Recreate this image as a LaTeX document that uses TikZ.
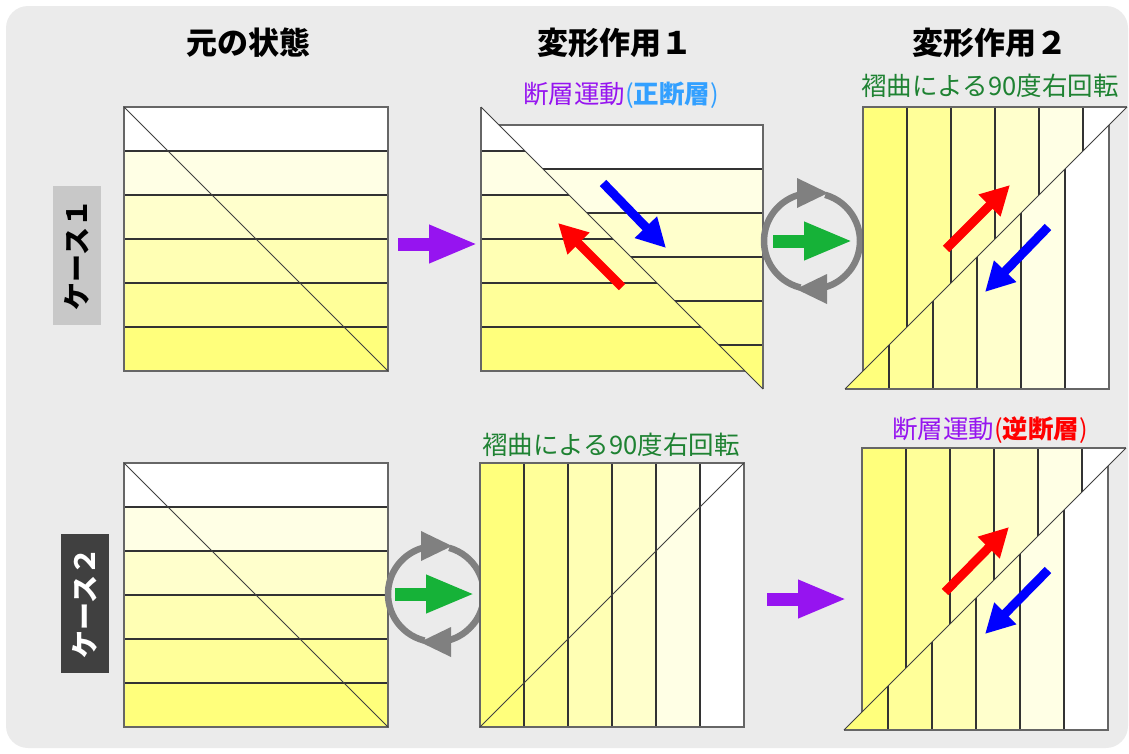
\documentclass[tikz,border=0pt]{standalone}
\usepackage{fontspec}
\setmainfont{Noto Sans CJK JP}
\usetikzlibrary{arrows.meta}

\definecolor{bgpanel}{RGB}{235,235,235}
\definecolor{bed0}{RGB}{255,255,255}
\definecolor{bed1}{RGB}{255,255,229}
\definecolor{bed2}{RGB}{255,255,204}
\definecolor{bed3}{RGB}{255,255,180}
\definecolor{bed4}{RGB}{255,255,153}
\definecolor{bed5}{RGB}{255,255,124}
\definecolor{faultpurple}{RGB}{150,20,240}
\definecolor{normalblue}{RGB}{51,160,255}
\definecolor{foldgreen}{RGB}{30,130,50}
\definecolor{rotgreen}{RGB}{22,178,56}
\definecolor{ringgray}{RGB}{128,128,128}
\definecolor{caseonegray}{RGB}{200,200,200}
\definecolor{casetwogray}{RGB}{64,64,64}

\begin{document}
\begin{tikzpicture}[x=1pt, y=-1pt,
    bedline/.style={draw=black!80, line width=1.1pt},
    frame/.style={draw=black!60, line width=1.1pt},
    fault/.style={draw=black!75, line width=0.8pt},
    fatarrow/.style={line width=13pt, -{Triangle[length=49pt,width=35pt]}},
    slip/.style={line width=9pt, -{Triangle[length=29pt,width=29pt]}},
    ring/.style={draw=ringgray, line width=6.5pt},
    title/.style={font=\bfseries\fontsize{31}{31}\selectfont},
    note/.style={font=\fontsize{25.5}{25.5}\selectfont},
    casebox/.style={rotate=90, minimum width=139pt, minimum height=48pt, inner sep=0pt,
        font=\bfseries\fontsize{28}{28}\selectfont}]
    \useasboundingbox (0,0) rectangle (1129,753);
    \fill[bgpanel, rounded corners=22pt] (6,6) rectangle (1128,748);

    % column headings
    \node[title] (head0) at (248,43) {元の状態};
    \node[title] (head1) at (615,43) {変形作用１};
    \node[title] (head2) at (990,43) {変形作用２};

    % case labels
    \node[casebox, fill=caseonegray] (case1) at (77,255) {ケース１};
    \node[casebox, fill=casetwogray, text=white] (case2) at (85,603) {ケース２};

    % ---- case 1, original beds
    \draw[bedline, fill=bed0] (124,107) rectangle (388,151);
    \draw[bedline, fill=bed1] (124,151) rectangle (388,195);
    \draw[bedline, fill=bed2] (124,195) rectangle (388,239);
    \draw[bedline, fill=bed3] (124,239) rectangle (388,283);
    \draw[bedline, fill=bed4] (124,283) rectangle (388,327);
    \draw[bedline, fill=bed5] (124,327) rectangle (388,371);
    \draw[frame] (124,107) rectangle (388,371);
    \draw[fault] (124,107) -- (388,371);

    \draw[fatarrow, faultpurple] (398,244) -- (478,244);

    % ---- case 1, normal fault
    \node[note] (note1) at (621,95) {\textcolor{faultpurple}{断層運動}\textcolor{normalblue}{(\textbf{正断層})}};
    \begin{scope}
        \clip (481,107) -- (481,371) -- (745,371) -- cycle;
        \draw[bedline, fill=bed0] (481,107) rectangle (745,151);
        \draw[bedline, fill=bed1] (481,151) rectangle (745,195);
        \draw[bedline, fill=bed2] (481,195) rectangle (745,239);
        \draw[bedline, fill=bed3] (481,239) rectangle (745,283);
        \draw[bedline, fill=bed4] (481,283) rectangle (745,327);
        \draw[bedline, fill=bed5] (481,327) rectangle (745,371);
    \end{scope}
    \begin{scope}
        \clip (499,125) -- (763,125) -- (763,389) -- cycle;
        \draw[bedline, fill=bed0] (499,125) rectangle (763,169);
        \draw[bedline, fill=bed1] (499,169) rectangle (763,213);
        \draw[bedline, fill=bed2] (499,213) rectangle (763,257);
        \draw[bedline, fill=bed3] (499,257) rectangle (763,301);
        \draw[bedline, fill=bed4] (499,301) rectangle (763,345);
        \draw[bedline, fill=bed5] (499,345) rectangle (763,389);
    \end{scope}
    \draw[frame] (481,107) -- (481,371) -- (745,371);
    \draw[frame] (499,125) -- (763,125) -- (763,389);
    \draw[fault] (481,107) -- (763,389);
    \draw[slip, blue] (603,183) -- (666,248);
    \draw[slip, red] (622,287) -- (558,223);

    % rotation mark
    \begin{scope}[shift={(812,241)}, y=1pt]
        \draw[ring] (256:48) arc[start angle=256, end angle=107, radius=48];
        \draw[ring] (74:48) arc[start angle=74, end angle=-73, radius=48];
        \fill[ringgray] (-15,63) -- (-15,33) -- (16,48) -- cycle;
        \fill[ringgray] (15,-63) -- (15,-33) -- (-16,-48) -- cycle;
        \draw[fatarrow, rotgreen] (-39,0) -- (41,0);
    \end{scope}

    % ---- case 1, folded and turned
    \node[note, text=foldgreen] (note2) at (990,86) {褶曲による90度右回転};
    \begin{scope}
        \clip (863,107) -- (1127,107) -- (863,371) -- cycle;
        \draw[bedline, fill=bed5] (863,107) rectangle (907,371);
        \draw[bedline, fill=bed4] (907,107) rectangle (951,371);
        \draw[bedline, fill=bed3] (951,107) rectangle (995,371);
        \draw[bedline, fill=bed2] (995,107) rectangle (1039,371);
        \draw[bedline, fill=bed1] (1039,107) rectangle (1083,371);
        \draw[bedline, fill=bed0] (1083,107) rectangle (1127,371);
    \end{scope}
    \begin{scope}
        \clip (845,389) -- (1109,389) -- (1109,125) -- cycle;
        \draw[bedline, fill=bed5] (845,125) rectangle (889,389);
        \draw[bedline, fill=bed4] (889,125) rectangle (933,389);
        \draw[bedline, fill=bed3] (933,125) rectangle (977,389);
        \draw[bedline, fill=bed2] (977,125) rectangle (1021,389);
        \draw[bedline, fill=bed1] (1021,125) rectangle (1065,389);
        \draw[bedline, fill=bed0] (1065,125) rectangle (1109,389);
    \end{scope}
    \draw[frame] (1127,107) -- (863,107) -- (863,371);
    \draw[frame] (845,389) -- (1109,389) -- (1109,125);
    \draw[fault] (845,389) -- (1127,107);
    \draw[slip, red] (946,249) -- (1010,185);
    \draw[slip, blue] (1048,227) -- (985,292);

    % ---- case 2, original beds
    \draw[bedline, fill=bed0] (124,463) rectangle (388,507);
    \draw[bedline, fill=bed1] (124,507) rectangle (388,551);
    \draw[bedline, fill=bed2] (124,551) rectangle (388,595);
    \draw[bedline, fill=bed3] (124,595) rectangle (388,639);
    \draw[bedline, fill=bed4] (124,639) rectangle (388,683);
    \draw[bedline, fill=bed5] (124,683) rectangle (388,727);
    \draw[frame] (124,463) rectangle (388,727);
    \draw[fault] (124,463) -- (388,727);

    % rotation mark
    \begin{scope}[shift={(436,594)}, y=1pt]
        \draw[ring] (256:48) arc[start angle=256, end angle=107, radius=48];
        \draw[ring] (74:48) arc[start angle=74, end angle=-73, radius=48];
        \fill[ringgray] (-15,63) -- (-15,33) -- (16,48) -- cycle;
        \fill[ringgray] (15,-63) -- (15,-33) -- (-16,-48) -- cycle;
        \draw[fatarrow, rotgreen] (-41,0) -- (39,0);
    \end{scope}

    % ---- case 2, folded and turned
    \node[note, text=foldgreen] (note3) at (611,445) {褶曲による90度右回転};
    \draw[bedline, fill=bed5] (480,463) rectangle (524,727);
    \draw[bedline, fill=bed4] (524,463) rectangle (568,727);
    \draw[bedline, fill=bed3] (568,463) rectangle (612,727);
    \draw[bedline, fill=bed2] (612,463) rectangle (656,727);
    \draw[bedline, fill=bed1] (656,463) rectangle (700,727);
    \draw[bedline, fill=bed0] (700,463) rectangle (744,727);
    \draw[frame] (480,463) rectangle (744,727);
    \draw[fault] (480,727) -- (744,463);

    \draw[fatarrow, faultpurple] (767,599) -- (847,599);

    % ---- case 2, reverse fault
    \node[note] (note4) at (990,430) {\textcolor{faultpurple}{断層運動}\textcolor{red}{(\textbf{逆断層})}};
    \begin{scope}
        \clip (862,448) -- (1126,448) -- (862,712) -- cycle;
        \draw[bedline, fill=bed5] (862,448) rectangle (906,712);
        \draw[bedline, fill=bed4] (906,448) rectangle (950,712);
        \draw[bedline, fill=bed3] (950,448) rectangle (994,712);
        \draw[bedline, fill=bed2] (994,448) rectangle (1038,712);
        \draw[bedline, fill=bed1] (1038,448) rectangle (1082,712);
        \draw[bedline, fill=bed0] (1082,448) rectangle (1126,712);
    \end{scope}
    \begin{scope}
        \clip (844,730) -- (1108,730) -- (1108,466) -- cycle;
        \draw[bedline, fill=bed5] (844,466) rectangle (888,730);
        \draw[bedline, fill=bed4] (888,466) rectangle (932,730);
        \draw[bedline, fill=bed3] (932,466) rectangle (976,730);
        \draw[bedline, fill=bed2] (976,466) rectangle (1020,730);
        \draw[bedline, fill=bed1] (1020,466) rectangle (1064,730);
        \draw[bedline, fill=bed0] (1064,466) rectangle (1108,730);
    \end{scope}
    \draw[frame] (1126,448) -- (862,448) -- (862,712);
    \draw[frame] (844,730) -- (1108,730) -- (1108,466);
    \draw[fault] (844,730) -- (1126,448);
    \draw[slip, red] (945,592) -- (1009,527);
    \draw[slip, blue] (1048,570) -- (985,634);
\end{tikzpicture}
\end{document}
